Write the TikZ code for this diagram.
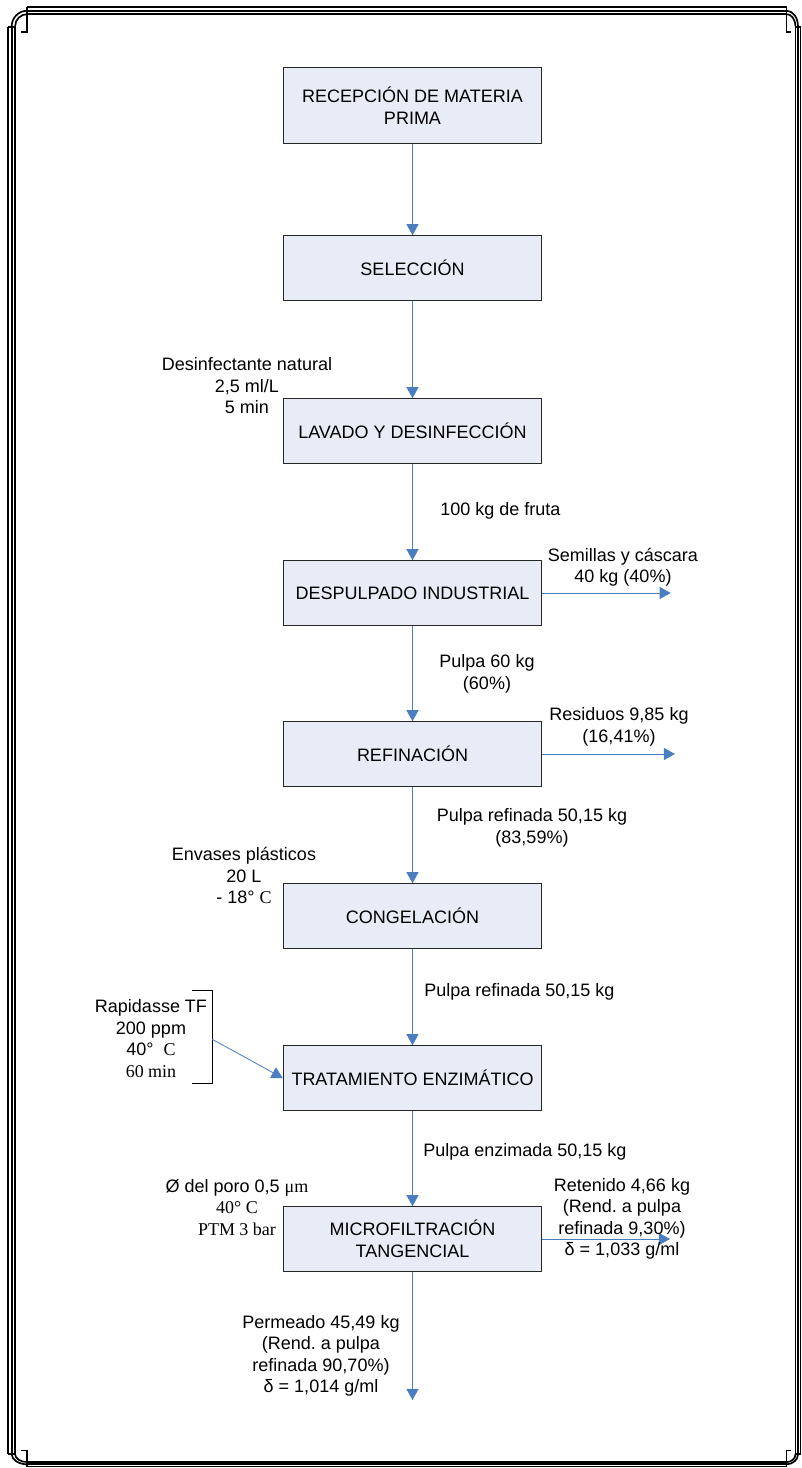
\documentclass[tikz,border=0pt]{standalone}
\usepackage{fontspec}
\setmainfont{Liberation Sans}
\newfontfamily\timesfont{Liberation Serif}
\usetikzlibrary{arrows.meta}
\usetikzlibrary{positioning}
\frenchspacing
\definecolor{flowblue}{RGB}{74,126,193}
\definecolor{boxfill}{RGB}{231,236,246}
\tikzset{stage/.style = {draw=black!85, fill=boxfill, line width=0.75pt,
                         minimum width=193.9pt, minimum height=48.4pt,
                         align=center, inner sep=0}}
\tikzset{flow/.style = {draw=flowblue, line width=0.75pt,
                        -{Triangle[length=8.3pt, width=9pt]}}}
\tikzset{note/.style = {align=center, inner sep=0}}
\tikzset{rim/.style = {line width=1.25pt}}
\newcommand\rimcorner[3]{%
  \begin{scope}[shift={#1}, xscale=#2, yscale=#3]
    \draw [rim] (0, 19.4) -- (6.8, 19.4)
                (19, 0) -- (19, 24.4) -- (12.4, 24.4);
    \draw [rim] (3.4, 19) arc [start angle=180, end angle=270, radius=15.6];
    \draw [rim] (6.8, 19) arc [start angle=180, end angle=270, radius=12.2];
  \end{scope}}

\begin{document}
\begin{tikzpicture}[x=0.75pt, y=-0.75pt, font=\fontsize{13.5}{16.1}\selectfont]
  \useasboundingbox (0, 0) rectangle (802, 1468);

  % marco
  \draw [rim] (27.3, 7.3) -- (786.5, 7.3) (27.3, 10.7) -- (786.5, 10.7)
              (27.3, 14.1) -- (786.5, 14.1);
  \draw [rim] (27.3, 1466.5) -- (786.5, 1466.5) (27.3, 1464.3) -- (786.5, 1464.3)
              (27.3, 1462.1) -- (786.5, 1462.1);
  \draw [rim] (8.3, 26.7) -- (8.3, 1453.9) (11.7, 26.3) -- (11.7, 1454.2)
              (15.1, 26.3) -- (15.1, 1454.2);
  \draw [rim] (800.5, 26.3) -- (800.5, 1454.2) (798, 26.3) -- (798, 1454.2)
              (795.5, 26.3) -- (795.5, 1454.2);
  \rimcorner{(8.3, 7.3)}{1}{1}
  \rimcorner{(800.5, 7.3)}{-0.735}{1}
  \rimcorner{(8.3, 1466.5)}{1}{-0.65}
  \rimcorner{(800.5, 1466.5)}{-0.735}{-0.65}

  % etapas
  \node [stage, minimum height=56.3pt] (recepcion) at (412.5, 105.5) {RECEPCIÓN DE MATERIA\\PRIMA};
  \node [stage] (seleccion) at (412.5, 268) {SELECCIÓN};
  \node [stage] (lavado) at (412.5, 431) {LAVADO Y DESINFECCIÓN};
  \node [stage] (despulpado) at (412.5, 593) {DESPULPADO INDUSTRIAL};
  \node [stage] (refinacion) at (412.5, 754) {REFINACIÓN};
  \node [stage] (congelacion) at (412.5, 916) {CONGELACIÓN};
  \node [stage] (tratamiento) at (412.5, 1078) {TRATAMIENTO ENZIMÁTICO};
  \node [stage] (micro) at (412.5, 1239) {MICROFILTRACIÓN\\TANGENCIAL};

  \coordinate (semillasout) at (670.7, 593);
  \coordinate (residuosout) at (675, 754);
  \coordinate (retenidoout) at (670, 1239);
  \coordinate (permeadoout) at (412.5, 1400);

  \draw [flow] (recepcion) -- (seleccion);
  \draw [flow] (seleccion) -- (lavado);
  \draw [flow] (lavado) -- (despulpado);
  \draw [flow] (despulpado) -- (refinacion);
  \draw [flow] (refinacion) -- (congelacion);
  \draw [flow] (congelacion) -- (tratamiento);
  \draw [flow] (tratamiento) -- (micro);
  \draw [flow] (despulpado) -- (semillasout);
  \draw [flow] (refinacion) -- (residuosout);
  \draw [flow] (micro) -- (retenidoout);
  \draw [flow] (micro) -- (permeadoout);

  % enzima
  \coordinate (pinzaA) at (191.7, 990);
  \coordinate (pinzaB) at (212.3, 990);
  \coordinate (pinzaC) at (212.3, 1083);
  \coordinate (pinzaD) at (191.7, 1083);
  \coordinate (pinza) at (212.3, 1039.3);
  \draw [line width=0.6pt] (pinzaA) -- (pinzaB) -- (pinzaC) -- (pinzaD);
  \draw [flow, line width=0.6pt] (pinza) -- (tratamiento.west);

  % textos
  \node [note] (desinf) at (247, 386) {Desinfectante natural\\2,5 ml/L\\5 min};
  \node [note, anchor=west] (fruta) at (440, 511) {100 kg de fruta};
  \node [note] (semillas) at (623, 567) {Semillas y cáscara\\40 kg (40\%)};
  \node [note] (pulpa) at (487, 674) {Pulpa 60 kg\\(60\%)};
  \node [note] (residuos) at (619, 727) {Residuos 9,85 kg\\(16,41\%)};
  \node [note] (refinada) at (532, 828) {Pulpa refinada 50,15 kg\\(83,59\%)};
  \node [note] (envases) at (244, 875.5) {Envases plásticos\\20 L\\- 18° {\timesfont C}};
  \node [note, anchor=west] (congelada) at (424, 992) {Pulpa refinada 50,15 kg};
  \node [note] (rapidasse) at (151, 1038.7) {Rapidasse TF\\200 ppm\\40°\ \ {\timesfont C}\\{\timesfont 60 min}};
  \node [note, anchor=west] (enzimada) at (423, 1152) {Pulpa enzimada 50,15 kg};
  \node [note] (poro) at (237, 1207.5) {Ø del poro 0,5 {\timesfont μm}\\{\timesfont 40° C}\\{\timesfont PTM 3 bar}};
  \node [note] (retenido) at (622, 1219) {Retenido 4,66 kg\\(Rend. a pulpa\\refinada 9,30\%)\\δ = 1,033 g/ml};
  \node [note] (permeado) at (321, 1356) {Permeado 45,49 kg\\(Rend. a pulpa\\refinada 90,70\%)\\δ = 1,014 g/ml};
\end{tikzpicture}
\end{document}
